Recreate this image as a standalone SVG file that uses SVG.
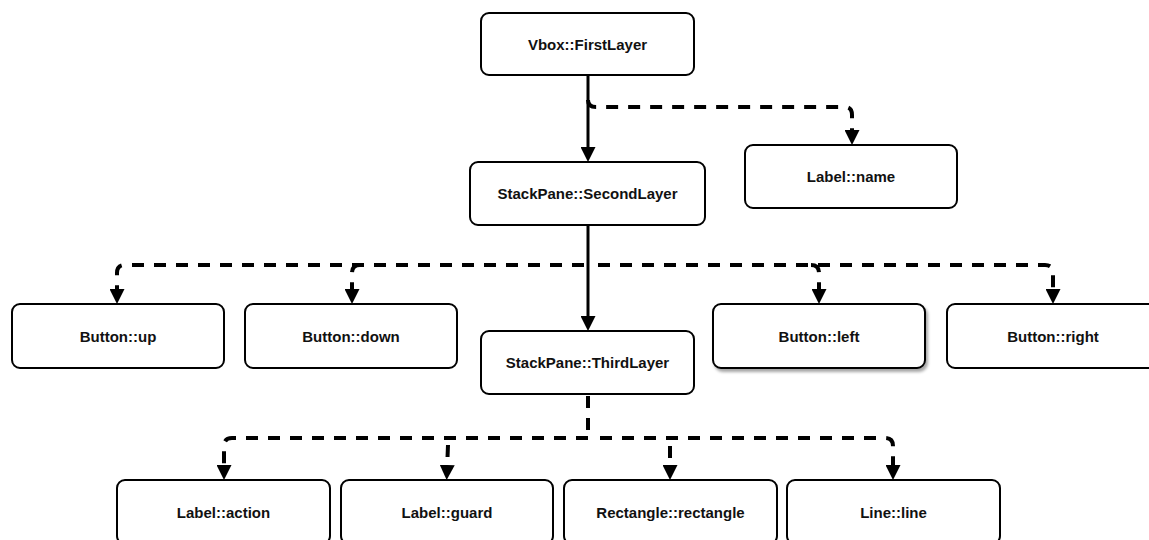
<svg xmlns="http://www.w3.org/2000/svg" width="1149" height="540" viewBox="0 0 1149 540">
  <style>
    .box { fill: #ffffff; stroke: #000000; stroke-width: 2; }
    .lbl { font-family: "Liberation Sans", Arial, Helvetica, sans-serif; font-size: 15px; font-weight: bold; fill: #111111; text-anchor: middle; dominant-baseline: central; }
    .solid { fill: none; stroke: #000000; stroke-width: 3; }
    .dash { fill: none; stroke: #000000; stroke-width: 4; stroke-dasharray: 12 10; }
  </style>
  <defs>
    <marker id="arrow" viewBox="0 0 15 15" refX="6" refY="7.5" markerWidth="15" markerHeight="15" markerUnits="userSpaceOnUse" orient="auto">
      <path d="M0,0 L15,7.5 L0,15 z" fill="#000000"/>
    </marker>
    <filter id="shadow" x="-5%" y="-10%" width="115%" height="130%">
      <feDropShadow dx="2" dy="3" stdDeviation="1.5" flood-color="#000000" flood-opacity="0.35"/>
    </filter>
  </defs>

  <rect width="1149" height="540" fill="#ffffff"/>

  <!-- connectors -->
  <g id="connectors">
    <path class="solid" d="M588,75 L588,153" marker-end="url(#arrow)"/>
    <path class="dash" d="M588,100 Q588,107 596,107 L845,107 Q852,107 852,115 L852,136" marker-end="url(#arrow)"/>

    <path class="solid" d="M588,225 L588,322" marker-end="url(#arrow)"/>
    <path class="dash" d="M584,265 L125,265 Q117,265 117,273 L117,295" marker-end="url(#arrow)"/>
    <path class="dash" d="M360,265 Q352,265 352,273 L352,295" marker-end="url(#arrow)"/>
    <path class="dash" d="M598,265 L1045,265 Q1053,265 1053,273 L1053,295" marker-end="url(#arrow)"/>
    <path class="dash" d="M811,265 Q819,265 819,273 L819,295" marker-end="url(#arrow)"/>

    <path class="dash" d="M588,396 L588,432"/>
    <path class="dash" d="M588,438 L232,438 Q224,438 224,446 L224,471" marker-end="url(#arrow)"/>
    <path class="dash" d="M600,438 L885,438 Q893,438 893,446 L893,471" marker-end="url(#arrow)"/>
    <path class="dash" d="M448,445 L447,471" marker-end="url(#arrow)"/>
    <path class="dash" d="M670,446 L670,471" marker-end="url(#arrow)"/>
  </g>

  <!-- nodes -->
  <g id="vbox-firstlayer">
    <rect class="box" x="481" y="13" width="213" height="62" rx="8"/>
    <text class="lbl" x="587.5" y="44">Vbox::FirstLayer</text>
  </g>
  <g id="label-name">
    <rect class="box" x="745" y="145" width="212" height="63" rx="8"/>
    <text class="lbl" x="851" y="176.5">Label::name</text>
  </g>
  <g id="stackpane-secondlayer">
    <rect class="box" x="470" y="162" width="235" height="63" rx="8"/>
    <text class="lbl" x="587.5" y="193.5">StackPane::SecondLayer</text>
  </g>
  <g id="button-up">
    <rect class="box" x="12" y="304" width="212" height="64" rx="8"/>
    <text class="lbl" x="118" y="336">Button::up</text>
  </g>
  <g id="button-down">
    <rect class="box" x="245" y="304" width="212" height="64" rx="8"/>
    <text class="lbl" x="351" y="336">Button::down</text>
  </g>
  <g id="stackpane-thirdlayer">
    <rect class="box" x="481" y="331" width="213" height="63" rx="8"/>
    <text class="lbl" x="587.5" y="362.5">StackPane::ThirdLayer</text>
  </g>
  <g id="button-left">
    <rect class="box" x="713" y="304" width="212" height="64" rx="8" filter="url(#shadow)"/>
    <text class="lbl" x="819" y="336">Button::left</text>
  </g>
  <g id="button-right">
    <rect class="box" x="947" y="304" width="212" height="64" rx="8"/>
    <text class="lbl" x="1053" y="336">Button::right</text>
  </g>
  <g id="label-action">
    <rect class="box" x="117" y="480" width="213" height="64" rx="8"/>
    <text class="lbl" x="223.5" y="512">Label::action</text>
  </g>
  <g id="label-guard">
    <rect class="box" x="341" y="480" width="212" height="64" rx="8"/>
    <text class="lbl" x="447" y="512">Label::guard</text>
  </g>
  <g id="rectangle-rectangle">
    <rect class="box" x="564" y="480" width="213" height="64" rx="8"/>
    <text class="lbl" x="670.5" y="512">Rectangle::rectangle</text>
  </g>
  <g id="line-line">
    <rect class="box" x="787" y="480" width="213" height="64" rx="8"/>
    <text class="lbl" x="893.5" y="512">Line::line</text>
  </g>
</svg>
